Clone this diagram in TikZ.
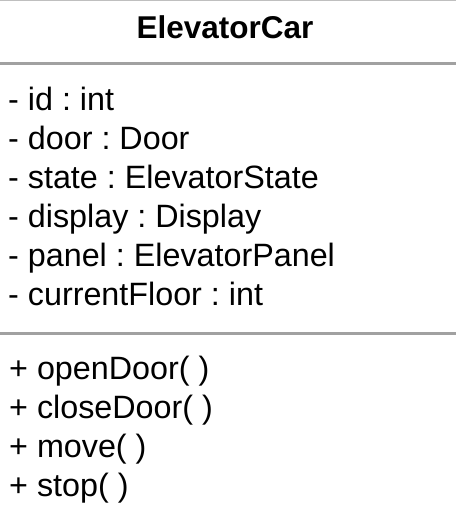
\documentclass[tikz,border=0pt]{standalone}
\usepackage{fontspec}
\setmainfont{Liberation Sans}
\usetikzlibrary{positioning}
\frenchspacing

\begin{document}
\begin{tikzpicture}[x=1pt,y=-1pt]
   \useasboundingbox (0,0) rectangle (456,511);
   \tikzstyle{member}=[anchor=base west, inner sep=0pt, font=\fontsize{32.3}{38}\selectfont]
   \tikzstyle{sep}=[draw=black!37, line width=2.5pt]
   \node[anchor=base, inner sep=0pt, font=\fontsize{31.5}{37}\selectfont\bfseries] (title) at (225,38) {ElevatorCar};
   \draw[draw=black!25, line width=1pt] (0,0.5) -- (456,0.5);
   \draw[sep] (0,63.5) -- (456,63.5);
   \foreach \i/\attr in {0/{- id : int},1/{- door : Door},2/{- state : ElevatorState},3/{- display : Display},4/{- panel : ElevatorPanel},5/{- currentFloor : int}} {
       \node[member] (a\i) at (8,110+39*\i) {\attr};
   }
   \draw[sep] (0,333.5) -- (456,333.5);
   \foreach \i/\op in {0/{+ openDoor( )},1/{+ closeDoor( )},2/{+ move( )},3/{+ stop( )}} {
       \node[member] (m\i) at (9,379+39.3*\i) {\op};
   }
\end{tikzpicture}
\end{document}
